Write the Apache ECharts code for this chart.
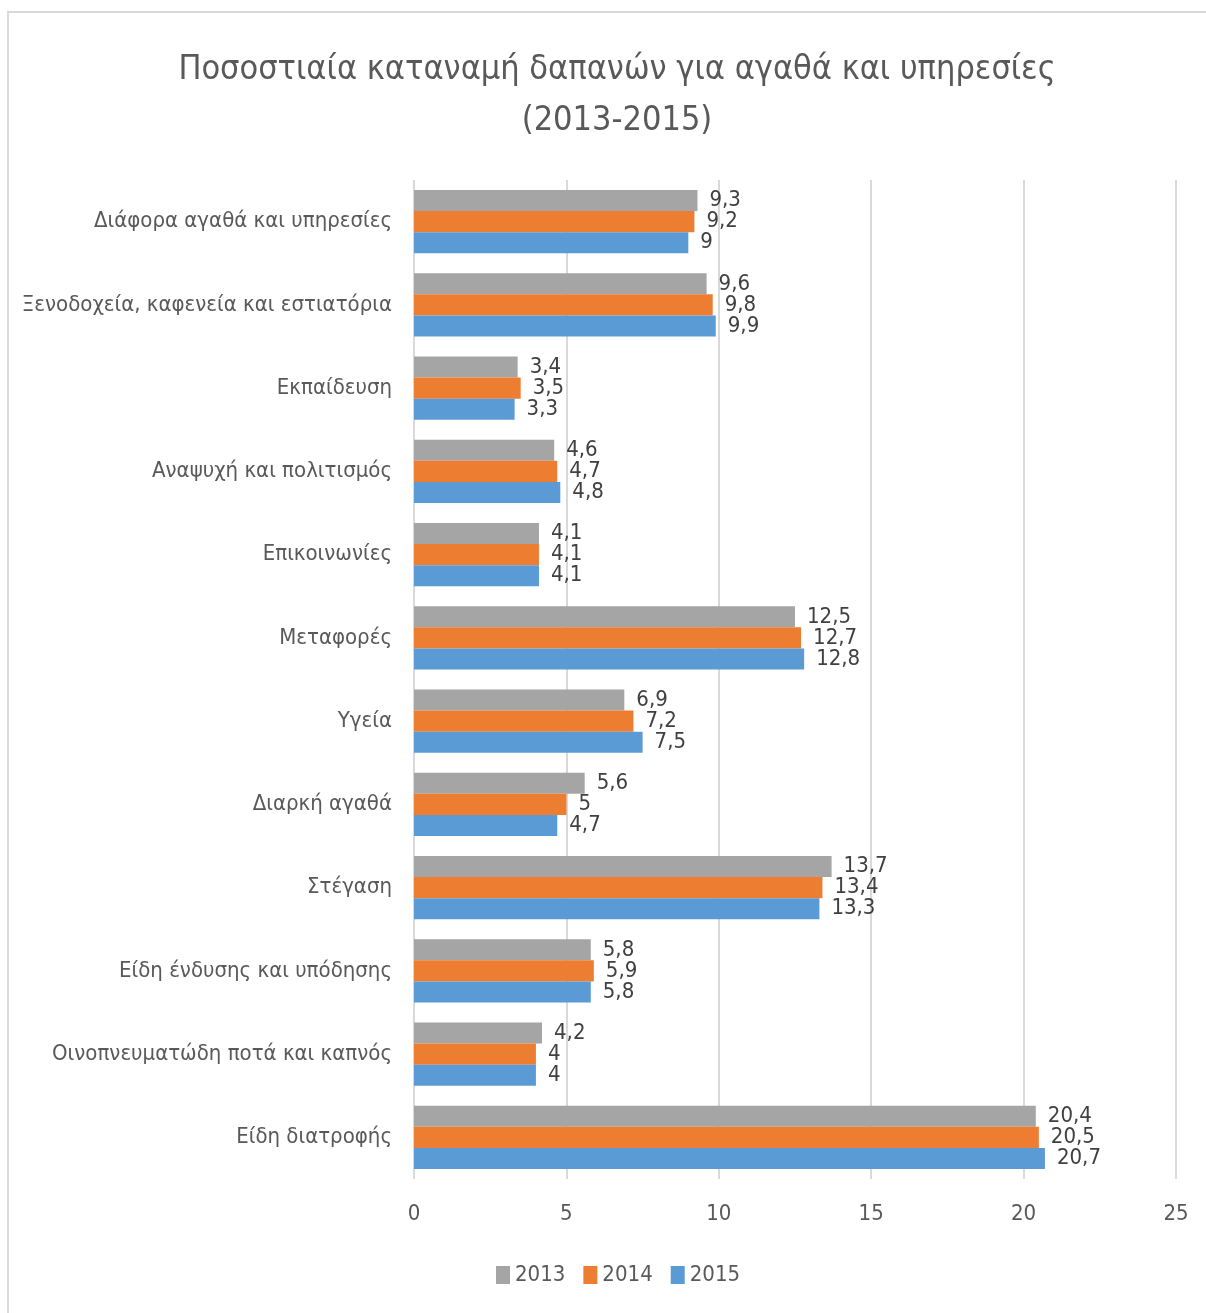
<!DOCTYPE html>
<html>
<head>
<meta charset="utf-8">
<style>
  html, body { margin: 0; padding: 0; background: #ffffff; }
  #chart { width: 1206px; height: 1313px; }
</style>
<script src="https://cdn.jsdelivr.net/npm/echarts@6/dist/echarts.min.js"></script>
</head>
<body>
<div id="chart"></div>
<script>
// Categories, listed from the bottom of the axis upwards
const categories = [
  'Είδη διατροφής',
  'Οινοπνευματώδη ποτά και καπνός',
  'Είδη ένδυσης και υπόδησης',
  'Στέγαση',
  'Διαρκή αγαθά',
  'Υγεία',
  'Μεταφορές',
  'Επικοινωνίες',
  'Αναψυχή και πολιτισμός',
  'Εκπαίδευση',
  'Ξενοδοχεία, καφενεία και εστιατόρια',
  'Διάφορα αγαθά και υπηρεσίες'
];
const values2013 = [20.4, 4.2, 5.8, 13.7, 5.6, 6.9, 12.5, 4.1, 4.6, 3.4, 9.6, 9.3];
const values2014 = [20.5, 4.0, 5.9, 13.4, 5.0, 7.2, 12.7, 4.1, 4.7, 3.5, 9.8, 9.2];
const values2015 = [20.7, 4.0, 5.8, 13.3, 4.7, 7.5, 12.8, 4.1, 4.8, 3.3, 9.9, 9.0];
const seriesNames = ['2013', '2014', '2015'];
const xTicks = { min: 0, max: 25, interval: 5 };

const FONT = '"Liberation Sans Narrow", "DejaVu Sans Condensed", "Open Sans", sans-serif';
const colors = ['#a5a5a5', '#ed7d31', '#5b9bd5'];

const chart = echarts.init(document.getElementById('chart'));

// Values are shown with a decimal comma
function fmt(v) {
  return String(v).replace('.', ',');
}

function makeSeries(name, data, color) {
  return {
    name: name,
    type: 'bar',
    data: data,
    barGap: '0%',
    barCategoryGap: '24.3%',
    itemStyle: { color: color },
    label: {
      show: true,
      position: 'right',
      distance: 12,
      fontFamily: FONT,
      fontSize: 22,
      color: '#404040',
      formatter: p => fmt(p.value)
    }
  };
}

chart.setOption({
  animation: false,
  backgroundColor: '#ffffff',
  title: {
    text: 'Ποσοστιαία καταναμή δαπανών για αγαθά και υπηρεσίες\n(2013-2015)',
    left: 612,
    top: 40,
    textAlign: 'center',
    textStyle: {
      fontFamily: FONT,
      fontSize: 34,
      fontWeight: 'normal',
      color: '#595959',
      lineHeight: 51
    }
  },
  legend: {
    bottom: 22,
    left: 491,
    itemWidth: 14,
    itemHeight: 18,
    itemGap: 18,
    icon: 'rect',
    textStyle: { fontFamily: FONT, fontSize: 22, color: '#595959' },
    data: seriesNames
  },
  grid: { left: 414, right: 30, top: 180, bottom: 134, containLabel: false },
  xAxis: {
    type: 'value',
    min: xTicks.min,
    max: xTicks.max,
    interval: xTicks.interval,
    axisLine: { show: false },
    axisTick: { show: false },
    axisLabel: { fontFamily: FONT, fontSize: 22, color: '#595959', margin: 24 },
    splitLine: { lineStyle: { color: '#d9d9d9', width: 2 } }
  },
  yAxis: {
    type: 'category',
    data: categories,
    axisLine: { show: false },
    axisTick: { show: false },
    axisLabel: { fontFamily: FONT, fontSize: 22, color: '#595959', margin: 22 }
  },
  graphic: [{
    type: 'rect',
    shape: { x: 8, y: 12, width: 1220, height: 1320 },
    style: { fill: 'none', stroke: '#d9d9d9', lineWidth: 2 },
    silent: true
  }],
  series: [
    makeSeries(seriesNames[0], values2013, colors[0]),
    makeSeries(seriesNames[1], values2014, colors[1]),
    makeSeries(seriesNames[2], values2015, colors[2])
  ]
});
</script>
</body>
</html>
